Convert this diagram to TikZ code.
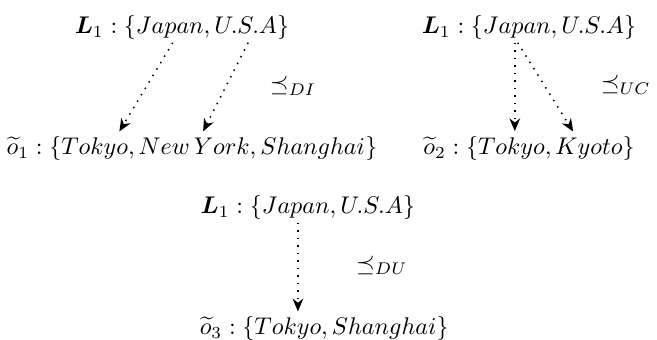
\documentclass[tikz,border=0pt]{standalone}
\usepackage{amsmath,amssymb}
\usetikzlibrary{arrows.meta}
\tikzset{
  setnode/.style={inner sep=1pt, scale=0.965},
  refarrow/.style={line width=0.6pt, dash pattern=on 0.6pt off 2.4pt, -{Stealth[length=1.8mm,width=1.5mm]}, shorten >=1pt}
}
\begin{document}
\begin{tikzpicture}
\useasboundingbox (0,0) rectangle (9.24,4.78);
% top left: DI
\node[setnode] (L1a) at (2.56,4.39) {$\boldsymbol{L}_1:\{Japan, U.S.A\}$};
\node[setnode] (o1) at (2.70,2.69) {$\widetilde{o}_1:\{Tokyo, New\,York, Shanghai\}$};
\node[setnode] (di) at (4.12,3.57) {$\preceq_{DI}$};
\draw[refarrow] ([xshift=-0.13cm]L1a.south)--([xshift=-1.04cm]o1.north);
\draw[refarrow] ([xshift=0.93cm]L1a.south)--([xshift=0.14cm]o1.north);
% top right: UC
\node[setnode] (L1b) at (7.44,4.39) {$\boldsymbol{L}_1:\{Japan, U.S.A\}$};
\node[setnode] (o2) at (7.44,2.69) {$\widetilde{o}_2:\{Tokyo, Kyoto\}$};
\node[setnode] (uc) at (8.80,3.59) {$\preceq_{UC}$};
\draw[refarrow] ([xshift=-0.20cm]L1b.south)--([xshift=-0.20cm]o2.north);
\draw[refarrow] ([xshift=-0.16cm]L1b.south)--([xshift=0.64cm]o2.north);
% bottom: DU
\node[setnode] (L1c) at (4.33,1.86) {$\boldsymbol{L}_1:\{Japan, U.S.A\}$};
\node[setnode] (o3) at (4.56,0.155) {$\widetilde{o}_3:\{Tokyo, Shanghai\}$};
\node[setnode] (du) at (5.37,1.05) {$\preceq_{DU}$};
\draw[refarrow] ([xshift=-0.14cm]L1c.south)--([xshift=-0.37cm]o3.north);
\end{tikzpicture}
\end{document}
